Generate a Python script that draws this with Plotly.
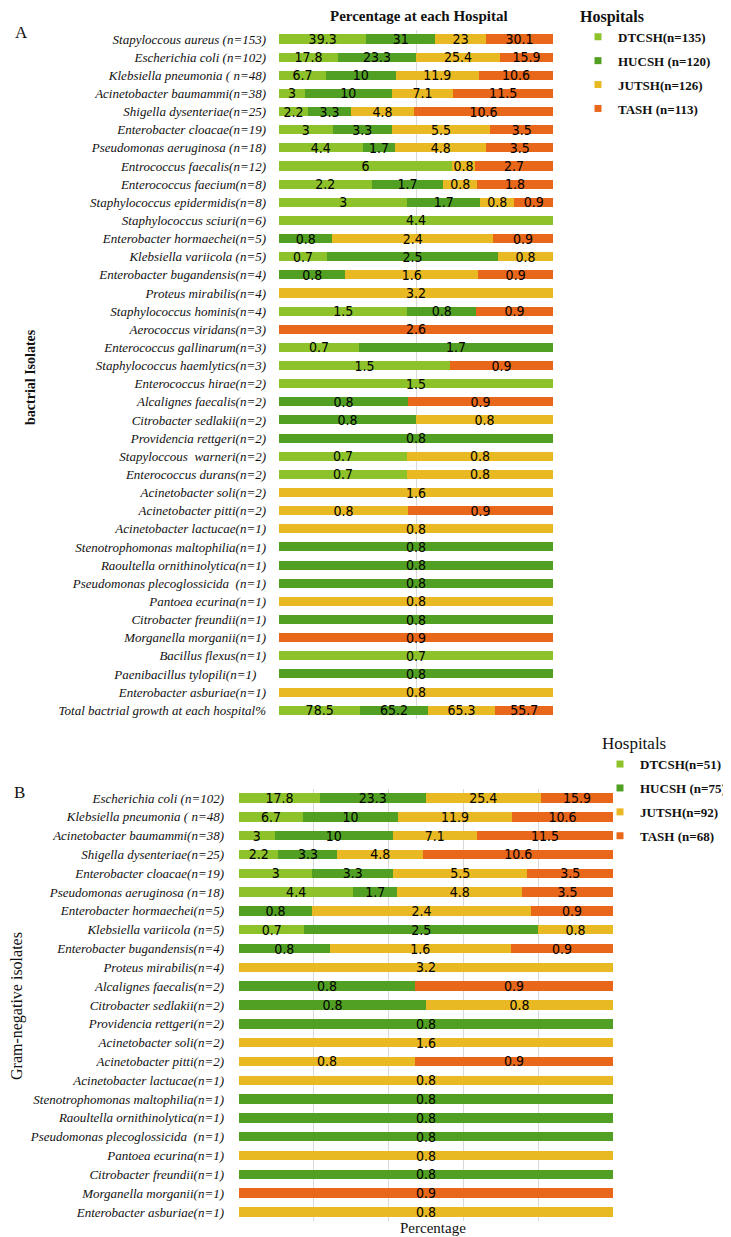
import plotly.graph_objects as go

# ---------------- DATA ----------------
hospitals_a = ["DTCSH(n=135)", "HUCSH (n=120)", "JUTSH(n=126)", "TASH (n=113)"]
hospitals_b = ["DTCSH(n=51)", "HUCSH (n=75)", "JUTSH(n=92)", "TASH (n=68)"]
colors = ["#8DC22B", "#52A023", "#E9B924", "#E8671B"]

isolates_a = [
    "Stapyloccous aureus (n=153)", "Escherichia coli (n=102)", "Klebsiella pneumonia ( n=48)",
    "Acinetobacter baumammi(n=38)", "Shigella dysenteriae(n=25)", "Enterobacter cloacae(n=19)",
    "Pseudomonas aeruginosa (n=18)", "Entrococcus faecalis(n=12)", "Enterococcus faecium(n=8)",
    "Staphylococcus epidermidis(n=8)", "Staphylococcus sciuri(n=6)", "Enterobacter hormaechei(n=5)",
    "Klebsiella variicola (n=5)", "Enterobacter bugandensis(n=4)", "Proteus mirabilis(n=4)",
    "Staphylococcus hominis(n=4)", "Aerococcus viridans(n=3)", "Enterococcus gallinarum(n=3)",
    "Staphylococcus haemlytics(n=3)", "Enterococcus hirae(n=2)", "Alcalignes faecalis(n=2)",
    "Citrobacter sedlakii(n=2)", "Providencia rettgeri(n=2)", "Stapyloccous \u00a0warneri(n=2)",
    "Enterococcus durans(n=2)", "Acinetobacter soli(n=2)", "Acinetobacter pitti(n=2)",
    "Acinetobacter lactucae(n=1)", "Stenotrophomonas maltophilia(n=1)", "Raoultella ornithinolytica(n=1)",
    "Pseudomonas plecoglossicida \u00a0(n=1)", "Pantoea ecurina(n=1)", "Citrobacter freundii(n=1)",
    "Morganella morganii(n=1)", "Bacillus flexus(n=1)", "Paenibacillus tylopili(n=1)\u00a0\u00a0\u00a0",
    "Enterobacter asburiae(n=1)", "Total bactrial growth at each hospital%",
]
dtcsh_a = [39.3, 17.8, 6.7, 3, 2.2, 3, 4.4, 6, 2.2, 3, 4.4, None, 0.7, None, None, 1.5, None, 0.7,
           1.5, 1.5, None, None, None, 0.7, 0.7, None, None, None, None, None, None, None, None,
           None, 0.7, None, None, 78.5]
hucsh_a = [31, 23.3, 10, 10, 3.3, 3.3, 1.7, None, 1.7, 1.7, None, 0.8, 2.5, 0.8, None, 0.8, None, 1.7,
           None, None, 0.8, 0.8, 0.8, None, None, None, None, None, 0.8, 0.8, 0.8, None, 0.8,
           None, None, 0.8, None, 65.2]
jutsh_a = [23, 25.4, 11.9, 7.1, 4.8, 5.5, 4.8, 0.8, 0.8, 0.8, None, 2.4, 0.8, 1.6, 3.2, None, None, None,
           None, None, None, 0.8, None, 0.8, 0.8, 1.6, 0.8, 0.8, None, None, None, 0.8, None,
           None, None, None, 0.8, 65.3]
tash_a = [30.1, 15.9, 10.6, 11.5, 10.6, 3.5, 3.5, 2.7, 1.8, 0.9, None, 0.9, None, 0.9, None, 0.9, 2.6, None,
          0.9, None, 0.9, None, None, None, None, None, 0.9, None, None, None, None, None, None,
          0.9, None, None, None, 55.7]

isolates_b = [
    "Escherichia coli (n=102)", "Klebsiella pneumonia ( n=48)", "Acinetobacter baumammi(n=38)",
    "Shigella dysenteriae(n=25)", "Enterobacter cloacae(n=19)", "Pseudomonas aeruginosa (n=18)",
    "Enterobacter hormaechei(n=5)", "Klebsiella variicola (n=5)", "Enterobacter bugandensis(n=4)",
    "Proteus mirabilis(n=4)", "Alcalignes faecalis(n=2)", "Citrobacter sedlakii(n=2)",
    "Providencia rettgeri(n=2)", "Acinetobacter soli(n=2)", "Acinetobacter pitti(n=2)",
    "Acinetobacter lactucae(n=1)", "Stenotrophomonas maltophilia(n=1)", "Raoultella ornithinolytica(n=1)",
    "Pseudomonas plecoglossicida \u00a0(n=1)", "Pantoea ecurina(n=1)", "Citrobacter freundii(n=1)",
    "Morganella morganii(n=1)", "Enterobacter asburiae(n=1)",
]
dtcsh_b = [17.8, 6.7, 3, 2.2, 3, 4.4, None, 0.7, None, None, None, None, None, None, None,
           None, None, None, None, None, None, None, None]
hucsh_b = [23.3, 10, 10, 3.3, 3.3, 1.7, 0.8, 2.5, 0.8, None, 0.8, 0.8, 0.8, None, None,
           None, 0.8, 0.8, 0.8, None, 0.8, None, None]
jutsh_b = [25.4, 11.9, 7.1, 4.8, 5.5, 4.8, 2.4, 0.8, 1.6, 3.2, None, 0.8, None, 1.6, 0.8,
           0.8, None, None, None, 0.8, None, None, 0.8]
tash_b = [15.9, 10.6, 11.5, 10.6, 3.5, 3.5, 0.9, None, 0.9, None, 0.9, None, None, None, 0.9,
          None, None, None, None, None, None, 0.9, None]

# ---------------- FIGURE ----------------
# The page body keeps an 8px margin, so the figure is drawn 8px in from the
# top-left corner of the window; size it to fill the rest of the 731x1237 view.
OFF = 8
W, H = 731 - OFF, 1237 - OFF
SERIF = "Liberation Serif, Times New Roman, serif"
NARROW = "Liberation Sans Narrow, DejaVu Sans Condensed, Arial Narrow, sans-serif"


def fmt(v):
    return "" if v is None else f"{v:g}"


def px_x(p):  # window pixel -> paper fraction
    return (p - OFF) / W


def px_y(p):
    return 1 - (p - OFF) / H


fig = go.Figure()

series_a = [dtcsh_a, hucsh_a, jutsh_a, tash_a]
series_b = [dtcsh_b, hucsh_b, jutsh_b, tash_b]

for i, (name, vals) in enumerate(zip(hospitals_a, series_a)):
    fig.add_trace(go.Bar(
        y=isolates_a, x=vals, orientation="h", name=name, marker_color=colors[i],
        marker_line_width=0, text=[fmt(v) for v in vals], texttemplate="%{text}",
        textposition="inside", insidetextanchor="middle", textangle=0,
        textfont=dict(family=NARROW, size=14, color="black"),
        xaxis="x", yaxis="y", showlegend=False, legendgroup="a%d" % i,
    ))
    fig.add_trace(go.Scatter(
        x=[None], y=[None], mode="markers", name="<b>%s</b>" % name,
        marker=dict(symbol="square", size=7, color=colors[i]),
        xaxis="x", yaxis="y", legend="legend", legendgroup="a%d" % i,
    ))

for i, (name, vals) in enumerate(zip(hospitals_b, series_b)):
    fig.add_trace(go.Bar(
        y=isolates_b, x=vals, orientation="h", name=name, marker_color=colors[i],
        marker_line_width=0, text=[fmt(v) for v in vals], texttemplate="%{text}",
        textposition="inside", insidetextanchor="middle", textangle=0,
        textfont=dict(family=NARROW, size=14, color="black"),
        xaxis="x2", yaxis="y2", showlegend=False, legendgroup="b%d" % i,
    ))
    fig.add_trace(go.Scatter(
        x=[None], y=[None], mode="markers", name="<b>%s</b>" % name,
        marker=dict(symbol="square", size=7, color=colors[i]),
        xaxis="x2", yaxis="y2", legend="legend2", legendgroup="b%d" % i,
    ))

grid = "#D9D9D9"
fig.update_layout(
    width=W, height=H,
    margin=dict(l=0, r=0, t=0, b=0, autoexpand=False),
    paper_bgcolor="white", plot_bgcolor="white",
    barmode="stack", barnorm="percent", bargap=0.5,
    uniformtext=dict(mode="show", minsize=14),
    font=dict(family=SERIF, color="#111"),
    xaxis=dict(domain=[px_x(279), px_x(553)], range=[0, 100], dtick=50, showgrid=True,
               gridcolor=grid, showticklabels=False, zeroline=False, showline=False,
               anchor="y"),
    yaxis=dict(domain=[px_y(719.3), px_y(29.9)], anchor="x", autorange="reversed",
               categoryorder="array", categoryarray=isolates_a, type="category",
               tickfont=dict(family=SERIF, size=13, style="italic", color="#111"),
               ticklabelstandoff=12, showgrid=False, showline=False, ticks=""),
    xaxis2=dict(domain=[px_x(239), px_x(613)], range=[0, 100], dtick=20, showgrid=True,
                gridcolor=grid, showticklabels=False, zeroline=False, showline=False,
                anchor="y2"),
    yaxis2=dict(domain=[px_y(1221.4), px_y(788.6)], anchor="x2", autorange="reversed",
                categoryorder="array", categoryarray=isolates_b, type="category",
                tickfont=dict(family=SERIF, size=13, style="italic", color="#111"),
                ticklabelstandoff=14, showgrid=False, showline=False, ticks=""),
    legend=dict(
        title=dict(text="<b>Hospitals</b>", font=dict(family=SERIF, size=16, color="#111")),
        font=dict(family=SERIF, size=13, color="#111"),
        x=px_x(578), y=px_y(1), xanchor="left", yanchor="top",
        itemwidth=30, tracegroupgap=4, bgcolor="rgba(0,0,0,0)",
    ),
    legend2=dict(
        title=dict(text="Hospitals", font=dict(family=SERIF, size=17, color="#111")),
        font=dict(family=SERIF, size=13, color="#111"),
        x=px_x(600), y=px_y(727), xanchor="left", yanchor="top",
        itemwidth=30, tracegroupgap=4, bgcolor="rgba(0,0,0,0)",
    ),
    annotations=[
        dict(text="<b>Percentage at each Hospital</b>", x=px_x(419), y=px_y(16), xref="paper",
             yref="paper", showarrow=False, font=dict(family=SERIF, size=15, color="#111"),
             xanchor="center", yanchor="middle"),
        dict(text="A", x=px_x(13), y=px_y(33), xref="paper", yref="paper", showarrow=False,
             font=dict(family=SERIF, size=17, color="#111"), xanchor="left", yanchor="middle"),
        dict(text="B", x=px_x(12), y=px_y(792), xref="paper", yref="paper", showarrow=False,
             font=dict(family=SERIF, size=17, color="#111"), xanchor="left", yanchor="middle"),
        dict(text="<b>bactrial Isolates</b>", x=px_x(30), y=px_y(377), xref="paper",
             yref="paper", showarrow=False, textangle=-90,
             font=dict(family=SERIF, size=14, color="#111"), xanchor="center", yanchor="middle"),
        dict(text="Gram-negative isolates", x=px_x(17), y=px_y(1006), xref="paper",
             yref="paper", showarrow=False, textangle=-90,
             font=dict(family=SERIF, size=16, color="#111"), xanchor="center", yanchor="middle"),
        dict(text="Percentage", x=px_x(433), y=px_y(1228), xref="paper", yref="paper",
             showarrow=False, font=dict(family=SERIF, size=15, color="#111"),
             xanchor="center", yanchor="middle", borderpad=0),
    ],
)

fig.write_html("out.html")
